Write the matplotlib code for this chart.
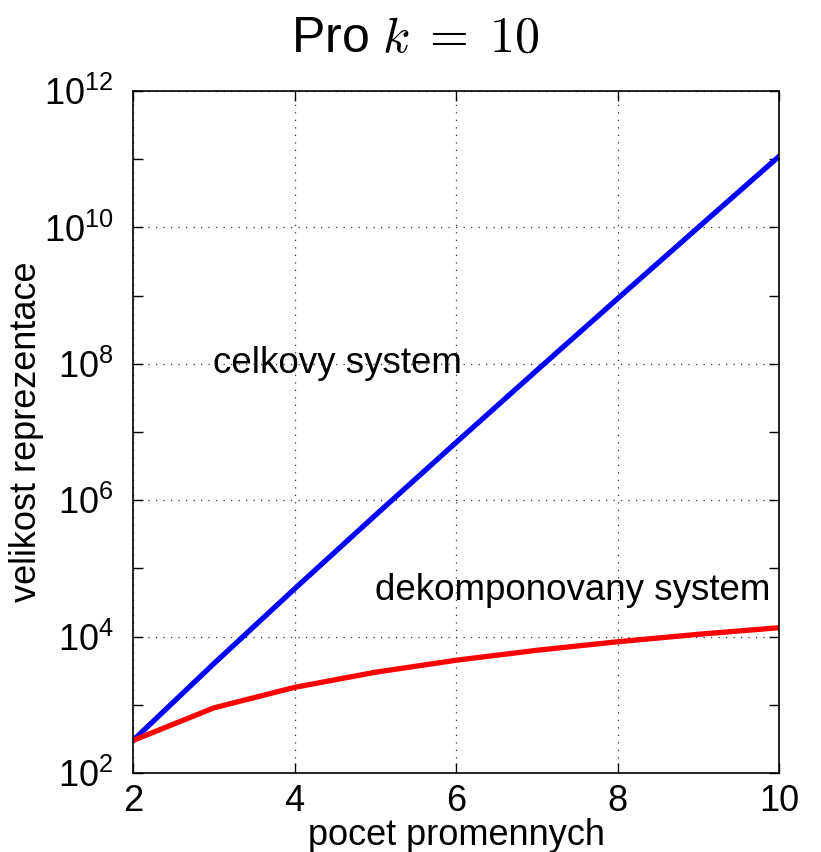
import math
import matplotlib.pyplot as plt
from matplotlib import font_manager
from matplotlib.ticker import FixedLocator, FuncFormatter

# narrow Helvetica-like face if there is one, plain Liberation Sans otherwise
names = {f.name for f in font_manager.fontManager.ttflist}
face = 'Liberation Sans Narrow' if 'Liberation Sans Narrow' in names else 'Liberation Sans'

plt.rcParams['font.family'] = [face, 'DejaVu Sans']
plt.rcParams['mathtext.fontset'] = 'custom'
plt.rcParams['mathtext.rm'] = face
plt.rcParams['mathtext.it'] = face + ':italic'
plt.rcParams['mathtext.bf'] = face + ':bold'

# pocet promennych (number of variables)
n_vars = [2, 3, 4, 5, 6, 7, 8, 9, 10]
# velikost reprezentace - celkovy system
celkovy = [3e2, 4e3, 5e4, 6e5, 7e6, 8e7, 9e8, 1e10, 1.1e11]
# velikost reprezentace - dekomponovany system
dekomponovany = [300, 900, 1800, 3000, 4500, 6300, 8400, 10800, 13500]

fig = plt.figure(figsize=(8.21, 8.52), dpi=100)
ax = fig.add_axes([133 / 821, 1 - 773 / 852, 646 / 821, 682 / 852])

ax.semilogy(n_vars, celkovy, color='#0000ff', linewidth=3.8)
ax.semilogy(n_vars, dekomponovany, color='#ff0000', linewidth=3.8)

ax.set_xlim(2, 10)
ax.set_ylim(1e2, 1e12)
ax.set_xticks([2, 4, 6, 8, 10])
ax.yaxis.set_major_locator(FixedLocator([10.0 ** e for e in range(2, 13, 2)]))
ax.yaxis.set_minor_locator(FixedLocator([10.0 ** e for e in range(3, 12, 2)]))
ax.yaxis.set_major_formatter(FuncFormatter(lambda v, p: '$10^{%d}$' % round(math.log10(v))))
ax.yaxis.set_minor_formatter(FuncFormatter(lambda v, p: ''))

ax.tick_params(axis='both', which='both', direction='in', top=True, right=True,
               labelsize=26, length=7, width=1)
ax.tick_params(axis='x', pad=8)
ax.tick_params(axis='y', pad=14)
ax.grid(True, which='major', linestyle=(0, (1, 5)), color='#333333', linewidth=0.9)
for s in ax.spines.values():
    s.set_linewidth(1.2)

fig.text(415 / 821, 1 - 52 / 852, r'Pro $k \;=\; 10$', fontsize=36, ha='center',
         va='baseline', math_fontfamily='cm')
ax.set_xlabel('pocet promennych', fontsize=26, labelpad=-1)
ax.set_ylabel('velikost reprezentace', fontsize=26, labelpad=0)

ax.text(2.99, 1e8, 'celkovy system', fontsize=26.5, va='center', ha='left')
ax.text(5.0, 10 ** 4.68, 'dekomponovany system', fontsize=26.5, va='center', ha='left')

fig.savefig('out.png', dpi=100)
